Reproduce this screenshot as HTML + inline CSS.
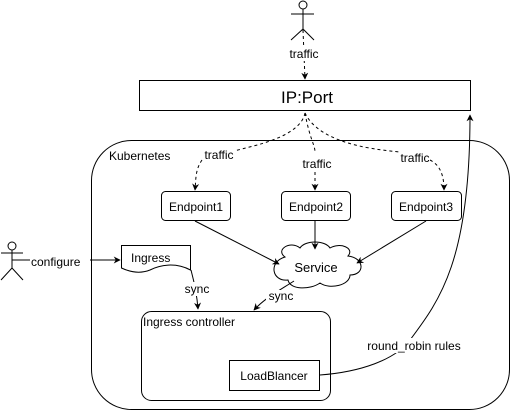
<!DOCTYPE html>
<html><head><style>html,body{margin:0;padding:0;background:#fff}svg{display:block}</style></head>
<body>
<svg width="511" height="411" viewBox="0 0 511 411" xmlns="http://www.w3.org/2000/svg" font-family="Liberation Sans, sans-serif" fill="none" stroke="#000">
<defs>
<marker id="a" viewBox="0 0 10 10" refX="9" refY="5" markerWidth="7" markerHeight="7" orient="auto"><path d="M0,0 L10,5 L0,10 L3,5 z" fill="#000" stroke="none"/></marker>
</defs>
<!-- top person -->
<circle cx="303" cy="5" r="4"/>
<line x1="303" y1="9" x2="303" y2="29"/>
<line x1="291" y1="14" x2="314" y2="14"/>
<path d="M291,40 L303,29 L314,40"/>
<line x1="303" y1="30" x2="305" y2="79" stroke-dasharray="3,3" marker-end="url(#a)"/>
<rect x="297" y="46" width="18" height="15" fill="#fff" stroke="none"/>
<text x="304" y="58" font-size="12" text-anchor="middle" fill="#000" stroke="none">traffic</text>
<!-- IP:Port -->
<rect x="139.5" y="80.5" width="331" height="30" fill="#fff"/>
<text x="307" y="103" font-size="17" text-anchor="middle" fill="#000" stroke="none">IP:Port</text>
<!-- Kubernetes -->
<rect x="91.5" y="140.5" width="418" height="269" rx="40" fill="#fff"/>
<text x="109" y="160" font-size="12" fill="#000" stroke="none">Kubernetes</text>
<!-- traffic dashed curves -->
<path d="M305,113 C300,140 240,148 235,151 M202,160 C195,170 196,180 195,190" stroke-dasharray="3,3" marker-end="url(#a)"/>
<path d="M305,113 C310,140 315,145 315,152 M315,172 L315,190" stroke-dasharray="3,3" marker-end="url(#a)"/>
<path d="M305,113 C320,145 380,150 400,152 M430,160 C440,165 444,175 444,190" stroke-dasharray="3,3" marker-end="url(#a)"/>
<text x="219" y="159" font-size="12" text-anchor="middle" fill="#000" stroke="none">traffic</text>
<text x="317" y="168" font-size="12" text-anchor="middle" fill="#000" stroke="none">traffic</text>
<text x="415" y="162" font-size="12" text-anchor="middle" fill="#000" stroke="none">traffic</text>
<!-- endpoints -->
<rect x="161.5" y="191.5" width="69" height="29" rx="4" fill="#fff"/>
<rect x="281.5" y="191.5" width="69" height="29" rx="4" fill="#fff"/>
<rect x="391.5" y="191.5" width="70" height="29" rx="4" fill="#fff"/>
<g font-size="12" text-anchor="middle" fill="#000" stroke="none">
<text x="196" y="211">Endpoint1</text><text x="316" y="211">Endpoint2</text><text x="426" y="211">Endpoint3</text>
</g>
<!-- service cloud -->
<path d="M285,257 C275,250 290,240 300,248 C305,240 325,240 330,248 C340,242 355,248 348,256 C365,258 365,275 350,275 C350,285 330,290 320,283 C310,290 290,290 288,280 C272,282 268,262 285,257 z" fill="#fff"/>
<text x="316" y="272" font-size="13" text-anchor="middle" fill="#000" stroke="none">Service</text>
<line x1="195" y1="221" x2="279" y2="264" marker-end="url(#a)"/>
<line x1="315" y1="221" x2="315" y2="249" marker-end="url(#a)"/>
<line x1="426" y1="221" x2="357" y2="263" marker-end="url(#a)"/>
<!-- left person -->
<circle cx="12" cy="246" r="4"/>
<line x1="12" y1="250" x2="12" y2="268"/>
<line x1="1" y1="253" x2="23" y2="253"/>
<path d="M1,280 L12,268 L23,280"/>
<line x1="12" y1="260" x2="120" y2="260" marker-end="url(#a)"/>
<rect x="30" y="253" width="60" height="15" fill="#fff" stroke="none"/>
<text x="31" y="266" font-size="12" fill="#000" stroke="none">configure</text>
<!-- Ingress doc -->
<path d="M121.5,245.5 H190.5 V270 C175,262 160,265 150,270 C140,274 130,272 121.5,268 z" fill="#fff"/>
<text x="131" y="262" font-size="12" fill="#000" stroke="none">Ingress</text>
<!-- syncs -->
<path d="M191,270 C195,285 197,295 198,309" marker-end="url(#a)"/>
<path d="M294,281 C280,290 265,298 254,310" marker-end="url(#a)"/>
<rect x="183" y="282" width="30" height="14" fill="#fff" stroke="none"/>
<text x="197" y="293" font-size="12" text-anchor="middle" fill="#000" stroke="none">sync</text>
<rect x="266" y="290" width="30" height="14" fill="#fff" stroke="none"/>
<text x="281" y="300" font-size="12" text-anchor="middle" fill="#000" stroke="none">sync</text>
<!-- ingress controller -->
<rect x="141.5" y="311.5" width="189" height="89" rx="10" fill="#fff"/>
<text x="143" y="326" font-size="12" fill="#000" stroke="none">Ingress controller</text>
<rect x="229.5" y="360.5" width="90" height="30" fill="#fff"/>
<text x="274" y="380" font-size="12" text-anchor="middle" fill="#000" stroke="none">LoadBlancer</text>
<!-- round robin -->
<path d="M320,375 C360,372 395,360 410,340 C440,300 470,260 470,115" marker-end="url(#a)"/>
<rect x="360" y="338" width="110" height="15" fill="#fff" stroke="none"/>
<text x="414" y="350" font-size="12" text-anchor="middle" fill="#000" stroke="none">round_robin rules</text>
</svg>
</body></html>
